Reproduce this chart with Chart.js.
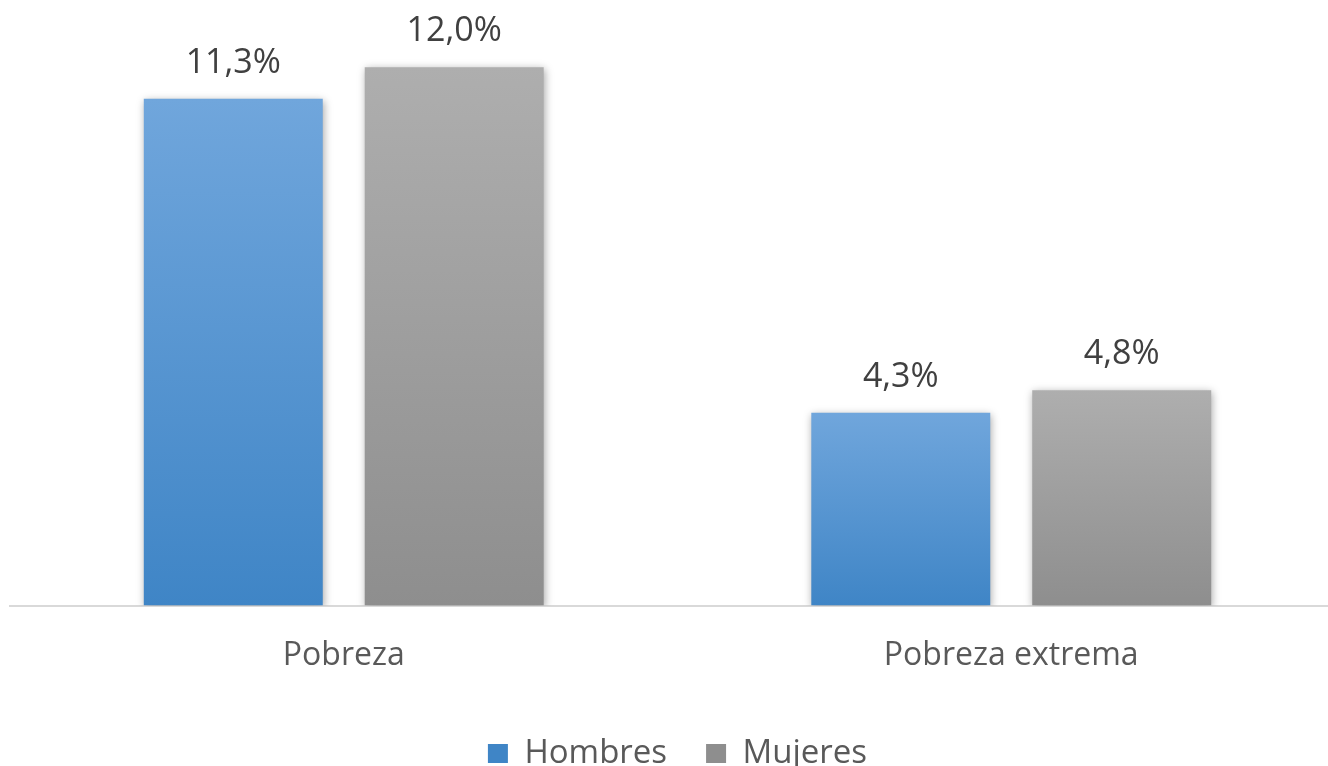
<!DOCTYPE html>
<html>
<head>
<meta charset="utf-8">
<script src="https://cdn.jsdelivr.net/npm/chart.js@4.4.0/dist/chart.umd.min.js"></script>
<style>
  html, body { margin: 0; padding: 0; background: #fff; overflow: hidden; }
  #wrap { width: 1350px; height: 766px; overflow: hidden; }
</style>
</head>
<body>
<div id="wrap"><canvas id="chart" width="1350" height="780"></canvas></div>
<script>
// Data
const categories = ['Pobreza', 'Pobreza extrema'];
const hombres = [11.3, 4.3];
const mujeres = [12.0, 4.8];
const seriesNames = ['Hombres', 'Mujeres'];

// gradient colours per series (top, bottom)
const blueTop = '#70a6dc', blueBottom = '#3f85c6';
const grayTop = '#aeaeae', grayBottom = '#8e8e8e';

function barGradient(top, bottom) {
    return function (context) {
        const chart = context.chart;
        const area = chart.chartArea;
        if (!area) return bottom;
        const yScale = chart.scales.y;
        const yTop = yScale.getPixelForValue(context.raw);
        const yBottom = yScale.getPixelForValue(0);
        const g = chart.ctx.createLinearGradient(0, yTop, 0, yBottom);
        g.addColorStop(0, top);
        g.addColorStop(1, bottom);
        return g;
    };
}

// soft shadow under the bars
const shadowPlugin = {
    id: 'barShadow',
    beforeDatasetsDraw(chart) {
        const ctx = chart.ctx;
        ctx.save();
        ctx.shadowColor = 'rgba(0,0,0,0.35)';
        ctx.shadowBlur = 8;
        ctx.shadowOffsetX = 1;
        ctx.shadowOffsetY = 2;
    },
    afterDatasetsDraw(chart) {
        chart.ctx.restore();
    }
};

// value labels above each bar
const valueLabels = {
    id: 'valueLabels',
    afterDatasetsDraw(chart) {
        const ctx = chart.ctx;
        ctx.save();
        ctx.font = '34px "Open Sans"';
        ctx.fillStyle = '#404040';
        ctx.textAlign = 'center';
        ctx.textBaseline = 'alphabetic';
        chart.data.datasets.forEach((ds, i) => {
            chart.getDatasetMeta(i).data.forEach((bar, j) => {
                const txt = ds.data[j].toFixed(1).replace('.', ',') + '%';
                ctx.fillText(txt, bar.x, bar.y - 26);
            });
        });
        ctx.restore();
    }
};

const ctx = document.getElementById('chart').getContext('2d');
new Chart(ctx, {
    type: 'bar',
    data: {
        labels: categories,
        datasets: [
            {
                label: seriesNames[0],
                data: hombres,
                backgroundColor: barGradient(blueTop, blueBottom),
                borderWidth: 0
            },
            {
                label: seriesNames[1],
                data: mujeres,
                backgroundColor: barGradient(grayTop, grayBottom),
                borderWidth: 0
            }
        ]
    },
    options: {
        responsive: false,
        animation: false,
        layout: { padding: { left: 10, right: 5, top: 0, bottom: 0 } },
        datasets: {
            bar: { categoryPercentage: 0.662, barPercentage: 0.81 }
        },
        plugins: {
            legend: {
                position: 'bottom',
                labels: {
                    font: { family: 'Open Sans', size: 33 },
                    color: '#595959',
                    boxWidth: 20,
                    boxHeight: 19,
                    padding: 39,
                    generateLabels(chart) {
                        const solid = [blueBottom, grayBottom];
                        return chart.data.datasets.map((ds, i) => ({
                            text: ds.label,
                            fillStyle: solid[i],
                            strokeStyle: solid[i],
                            lineWidth: 0,
                            fontColor: '#595959',
                            datasetIndex: i
                        }));
                    }
                }
            },
            tooltip: { enabled: false }
        },
        scales: {
            x: {
                grid: { display: false },
                border: { display: true, color: '#d9d9d9', width: 2 },
                ticks: {
                    font: { family: 'Open Sans', size: 32 },
                    color: '#595959',
                    padding: 23
                }
            },
            y: {
                display: false,
                min: 0,
                max: 13.5
            }
        }
    },
    plugins: [shadowPlugin, valueLabels]
});
</script>
</body>
</html>
